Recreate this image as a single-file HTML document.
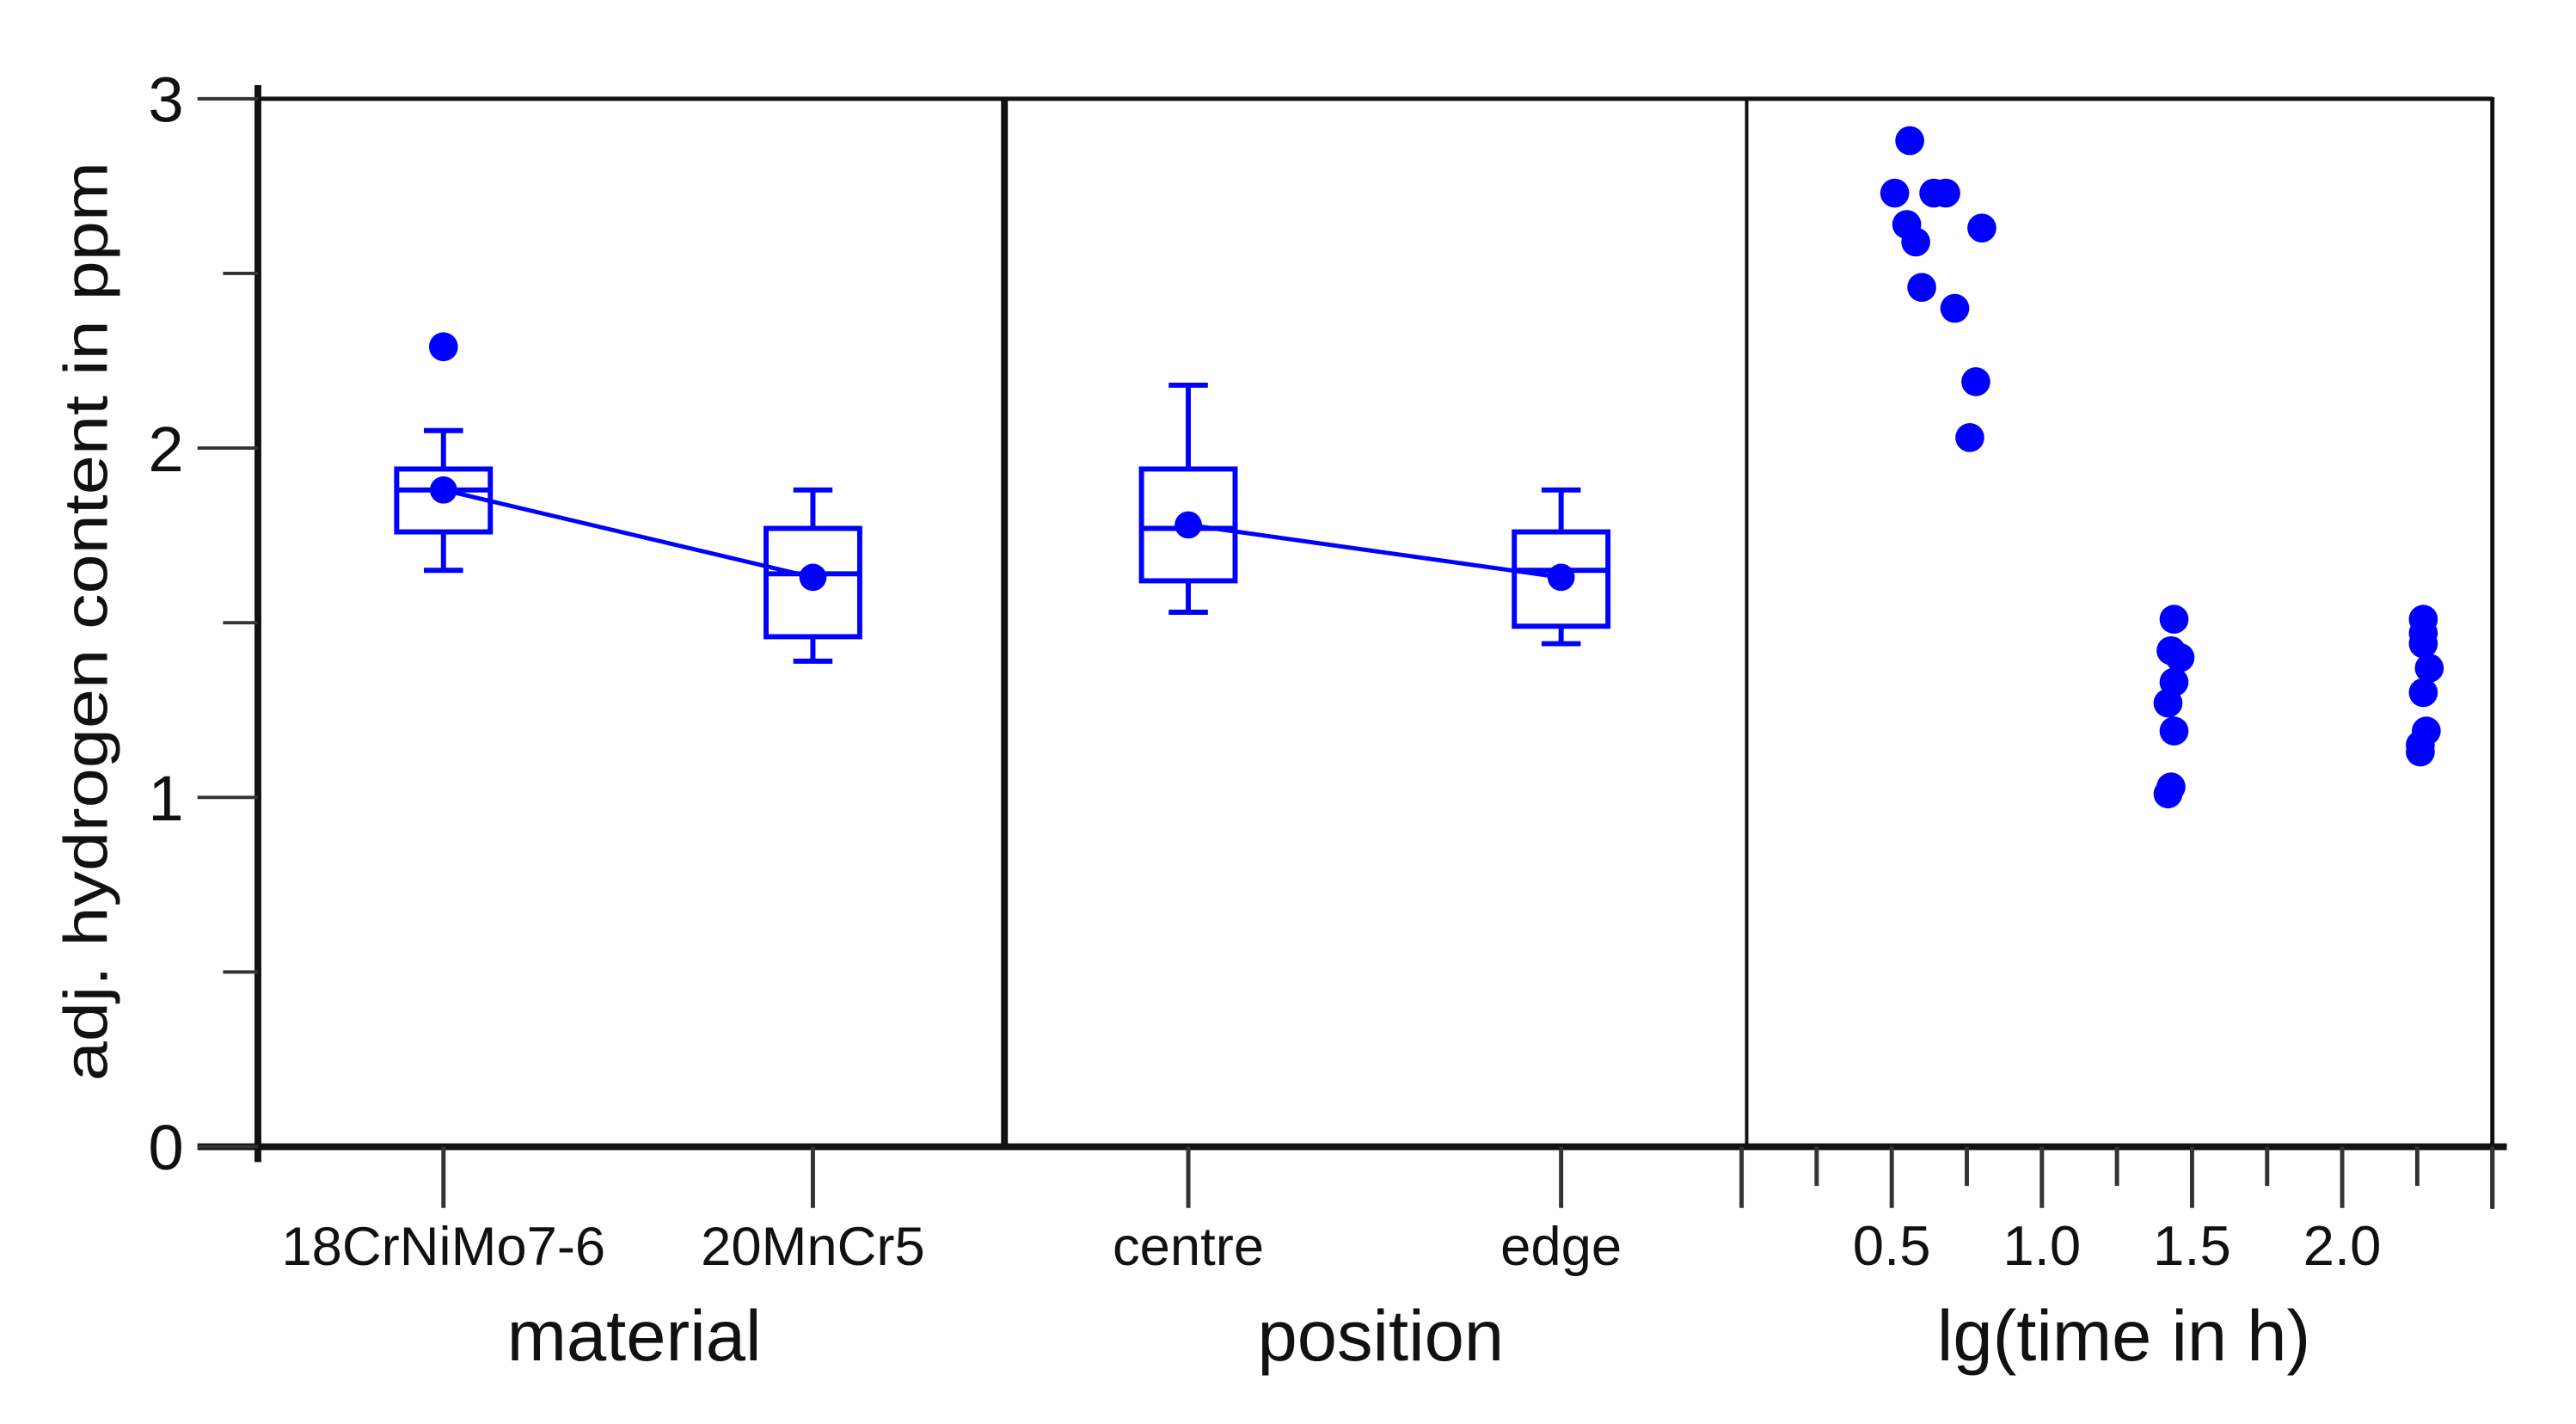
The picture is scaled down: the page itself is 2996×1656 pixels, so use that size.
<!DOCTYPE html>
<html><head><meta charset="utf-8"><style>
html,body{margin:0;padding:0;background:#fff}
svg{display:block}
text{font-family:"Liberation Sans",sans-serif;fill:#111}
</style></head><body>
<svg id="chart" width="2996" height="1656" viewBox="0 0 2996 1656" xmlns="http://www.w3.org/2000/svg">
<g transform="scale(0.99)">
<g id="frame"></g>
<g id="marks"></g>
<g id="labels"></g>
</g>
</svg>
<script>
// ---- data ----
const yTicks = [0, 1, 2, 3];
const yMinor = [0.5, 1.5, 2.5];
const materialCats = ["18CrNiMo7-6", "20MnCr5"];
const materialLow = [1.65, 1.39];
const materialQ1 = [1.76, 1.46];
const materialMedian = [1.88, 1.64];
const materialQ3 = [1.94, 1.77];
const materialHigh = [2.05, 1.88];
const materialMean = [1.88, 1.63];
const materialOutliers = [[0, 2.29]];
const positionCats = ["centre", "edge"];
const positionLow = [1.53, 1.44];
const positionQ1 = [1.62, 1.49];
const positionMedian = [1.77, 1.65];
const positionQ3 = [1.94, 1.76];
const positionHigh = [2.18, 1.88];
const positionMean = [1.78, 1.63];
const timeTickLabels = ["0.5", "1.0", "1.5", "2.0"];
const timeX = [0.56,0.51,0.55,0.58,0.64,0.68,0.80,0.60,0.71,0.78,0.76,
  1.44,1.43,1.46,1.44,1.42,1.44,1.43,1.42,
  2.27,2.27,2.27,2.29,2.27,2.28,2.26,2.26];
const timeY = [2.88,2.73,2.64,2.59,2.73,2.73,2.63,2.46,2.40,2.19,2.03,
  1.51,1.42,1.40,1.33,1.27,1.19,1.03,1.01,
  1.51,1.47,1.44,1.37,1.30,1.19,1.15,1.13];

// ---- layout ----
const NS = "http://www.w3.org/2000/svg";
const L = 303, R = 2928, T = 116, B = 1347, D1 = 1180, D2 = 2052;
const y = v => B - (v / 3) * (B - T);
const xCat1 = i => [521, 955][i];
const xCat2 = i => [1396, 1834][i];
const xTime = v => 2046 + v * ((R - 2046) / 2.5);
const BLUE = "#0000ff";
function el(parent, tag, attrs, txt) {
  const e = document.createElementNS(NS, tag);
  for (const k in attrs) e.setAttribute(k, attrs[k]);
  if (txt !== undefined) e.textContent = txt;
  document.getElementById(parent).appendChild(e);
  return e;
}
let e;
e = el("frame", "line", {x1: L, y1: T, x2: R, y2: T, stroke: "#111", "stroke-width": 5});
 
e = el("frame", "line", {x1: R, y1: T - 2, x2: R, y2: 1420, stroke: "#111", "stroke-width": 5});
 
e = el("frame", "line", {x1: L, y1: 100, x2: L, y2: 1365, stroke: "#111", "stroke-width": 8});
 
e = el("frame", "line", {x1: 232, y1: B, x2: 2945, y2: B, stroke: "#111", "stroke-width": 8});
 
e = el("frame", "line", {x1: D1, y1: T, x2: D1, y2: B, stroke: "#111", "stroke-width": 8});
 
e = el("frame", "line", {x1: D2, y1: T, x2: D2, y2: B, stroke: "#111", "stroke-width": 4});
 
yTicks.forEach(v => {
  const t = el("frame", "line", {x1: 232, y1: y(v), x2: L, y2: y(v), stroke: "#333", "stroke-width": 4});
  
  
  const lb = el("labels", "text", {x: 195, y: y(v) + 27, "font-size": 75, "text-anchor": "middle"}, String(v));
  
  
});
yMinor.forEach(v => {
  const t = el("frame", "line", {x1: 262, y1: y(v), x2: L, y2: y(v), stroke: "#333", "stroke-width": 4});
  
  
});
e = el("labels", "text", {x: 0, y: 0, "font-size": 72, "text-anchor": "middle", transform: "translate(126,730) rotate(-90)", textLength: 1080, lengthAdjust: "spacingAndGlyphs"}, "adj. hydrogen content in ppm");
 
function boxPanel(cats, xf, low, q1, med, q3, high, mean, prefix) {
  cats.forEach((c, i) => {
    const cx = xf(i);
    const t = el("frame", "line", {x1: cx, y1: B, x2: cx, y2: 1419, stroke: "#333", "stroke-width": 5});
    
    
    const lb = el("labels", "text", {x: cx, y: 1486, "font-size": 64, "text-anchor": "middle"}, c);
    
    
    const w = 110, cw = 46, s = {stroke: BLUE, "stroke-width": 6, fill: "none"};
    const wh = el("marks", "path", Object.assign({d: `M${cx},${y(q3[i])}V${y(high[i])}M${cx-cw/2},${y(high[i])}H${cx+cw/2}M${cx},${y(q1[i])}V${y(low[i])}M${cx-cw/2},${y(low[i])}H${cx+cw/2}`}, s));
    
    
    const bx = el("marks", "rect", Object.assign({x: cx - w/2, y: y(q3[i]), width: w, height: y(q1[i]) - y(q3[i])}, s));
    
    
    const md = el("marks", "line", Object.assign({x1: cx - w/2, x2: cx + w/2, y1: y(med[i]), y2: y(med[i])}, s));
    
    
    const mn = el("marks", "circle", {cx: cx, cy: y(mean[i]), r: 16, fill: BLUE});
    
    
  });
  const ml = el("marks", "line", {x1: xf(0), y1: y(mean[0]), x2: xf(1), y2: y(mean[1]), stroke: BLUE, "stroke-width": 5});
  
  
}
boxPanel(materialCats, xCat1, materialLow, materialQ1, materialMedian, materialQ3, materialHigh, materialMean, "material");
boxPanel(positionCats, xCat2, positionLow, positionQ1, positionMedian, positionQ3, positionHigh, positionMean, "position");
materialOutliers.forEach(o => {
  const c = el("marks", "circle", {cx: xCat1(o[0]), cy: y(o[1]), r: 17, fill: BLUE});
  
  
});
for (let k = 0; k <= 10; k++) {
  const v = k * 0.25, major = k % 2 === 0;
  const t = el("frame", "line", {x1: xTime(v), y1: B, x2: xTime(v), y2: major ? 1419 : 1393, stroke: "#333", "stroke-width": 5});
  
  
}
timeTickLabels.forEach(s => {
  const lb = el("labels", "text", {x: xTime(parseFloat(s)), y: 1486, "font-size": 66, "text-anchor": "middle"}, s);
  
  
});
timeX.forEach((v, i) => {
  const c = el("marks", "circle", {cx: xTime(v), cy: y(timeY[i]), r: 17, fill: BLUE});
  
  
});
[["material", 745], ["position", 1622], ["lg(time in h)", 2495]].forEach(a => {
  const t = el("labels", "text", {x: a[1], y: 1598, "font-size": 84, "text-anchor": "middle"}, a[0]);
  
  
});
</script>
</body></html>
